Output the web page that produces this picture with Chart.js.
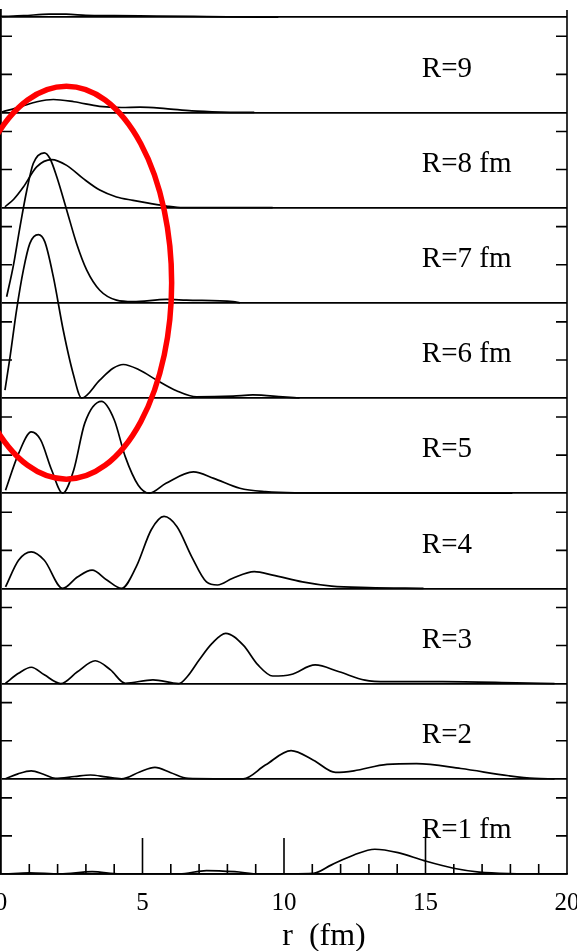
<!DOCTYPE html>
<html>
<head>
<meta charset="utf-8">
<script src="https://cdn.jsdelivr.net/npm/chart.js@4"></script>
<style>
  html, body { margin: 0; padding: 0; background: #fff; overflow: hidden; }
  #wrap { position: absolute; left: -30px; top: 0; width: 637px; height: 951px; }
</style>
</head>
<body>
<div id="wrap"><canvas id="profileChart"></canvas></div>
<script>
// r (fm) and profile value for each panel, bottom panel first
const r_R1 = [0.16, 1.0, 2.08, 3.22, 4.2, 6.3, 7.26, 8.26, 9.14, 11.04, 11.68, 12.47, 13.21, 14.03, 14.95, 15.99, 16.9, 18.46];
const v_R1 = [0, 0.03, 0, 0.06, 0, 0, 0.09, 0.06, 0, 0.02, 0.24, 0.5, 0.65, 0.56, 0.35, 0.15, 0.05, 0];

const r_R2 = [0.16, 0.6, 1.07, 1.5, 1.92, 2.6, 3.16, 3.7, 4.26, 4.9, 5.44, 6.0, 6.61, 7.52, 8.56, 9.34, 10.25, 11.04, 11.82, 12.47, 13.64, 14.68, 16.25, 17.94, 18.85, 19.56];
const v_R2 = [0, 0.13, 0.21, 0.12, 0.01, 0.06, 0.1, 0.05, 0, 0.18, 0.3, 0.16, 0.01, 0, 0, 0.36, 0.74, 0.49, 0.17, 0.21, 0.38, 0.4, 0.27, 0.08, 0.01, 0];

const r_R3 = [0.16, 0.62, 1.07, 1.53, 2.11, 2.7, 3.33, 3.87, 4.39, 5.37, 6.28, 6.6, 7.0, 7.45, 7.94, 8.56, 9.08, 9.6, 10.25, 11.1, 11.95, 12.86, 13.64, 15.6, 18.2, 19.56];
const v_R3 = [0.01, 0.27, 0.43, 0.23, 0, 0.31, 0.6, 0.36, 0.01, 0.1, 0, 0.2, 0.62, 1.05, 1.32, 1.01, 0.49, 0.2, 0.24, 0.49, 0.31, 0.09, 0.05, 0.05, 0.02, 0];

const r_R4 = [0.16, 0.62, 1.07, 1.53, 2.18, 2.7, 3.22, 3.74, 4.26, 4.78, 5.31, 5.76, 6.22, 6.74, 7.26, 7.65, 8.17, 8.95, 9.6, 10.65, 11.68, 12.99, 14.93];
const v_R4 = [0.04, 0.74, 0.96, 0.74, 0, 0.3, 0.48, 0.22, 0, 0.57, 1.54, 1.89, 1.62, 0.83, 0.17, 0.09, 0.26, 0.44, 0.35, 0.17, 0.06, 0.02, 0];

const r_R5 = [0.16, 0.62, 1.07, 1.4, 1.79, 2.18, 2.57, 2.96, 3.55, 4.0, 4.39, 4.85, 5.24, 5.83, 6.8, 7.52, 8.44, 9.34, 10.38, 18.07];
const v_R5 = [0.08, 1.04, 1.61, 1.4, 0.61, 0, 0.61, 1.84, 2.41, 1.93, 0.96, 0.21, 0, 0.26, 0.56, 0.39, 0.13, 0.04, 0.01, 0];

const r_R6 = [0.14, 0.32, 0.55, 0.79, 1.02, 1.32, 1.55, 1.85, 2.2, 2.55, 2.85, 3.49, 3.96, 4.32, 4.91, 5.5, 6.2, 6.91, 8.2, 8.9, 9.96, 10.55];
const v_R6 = [0.21, 1.08, 2.31, 3.36, 4.06, 4.29, 4.1, 3.18, 1.78, 0.64, 0, 0.47, 0.78, 0.88, 0.73, 0.47, 0.19, 0.03, 0.05, 0.08, 0.03, 0];

const r_R7 = [0.2, 0.43, 0.67, 0.91, 1.14, 1.53, 1.73, 1.97, 2.32, 2.67, 3.03, 3.49, 4.08, 4.66, 5.85, 6.55, 8.2, 8.44];
const v_R7 = [0.16, 0.95, 1.99, 2.95, 3.66, 3.94, 3.79, 3.31, 2.44, 1.56, 0.86, 0.33, 0.07, 0.03, 0.09, 0.07, 0.03, 0];

const r_R8 = [0.14, 0.45, 0.79, 1.26, 1.79, 2.32, 2.91, 3.49, 4.08, 4.67, 5.26, 5.85, 6.43, 9.6];
const v_R8 = [0.02, 0.22, 0.54, 1.07, 1.26, 1.11, 0.76, 0.46, 0.28, 0.19, 0.11, 0.04, 0, 0];

const r_R9 = [0.03, 0.74, 1.27, 1.85, 2.58, 3.48, 4.26, 4.91, 5.82, 6.74, 7.77, 8.95];
const v_R9 = [0.01, 0.16, 0.28, 0.34, 0.28, 0.16, 0.13, 0.14, 0.1, 0.04, 0.01, 0];

// panel cut off at the top of the figure
const r_R10 = [0, 0.8, 1.7, 2.3, 3.0, 4.0, 5.5, 6.8, 8.0, 9.8];
const v_R10 = [0.02, 0.04, 0.08, 0.08, 0.05, 0.04, 0.03, 0.02, 0.01, 0];

const panelNames = ['R=1 fm', 'R=2', 'R=3', 'R=4', 'R=5', 'R=6 fm', 'R=7 fm', 'R=8 fm', 'R=9', ''];
const xTicks = [0, 5, 10, 15, 20];
const panelHeight = 2.5;

// red ring drawn around the low-R peaks (data units)
const ring = { r: 2.31, y: 15.53, halfW: 3.72, halfH: 5.16 };

const serif = "'Liberation Serif', 'Times New Roman', serif";

const curves = [
  [r_R1, v_R1], [r_R2, v_R2], [r_R3, v_R3], [r_R4, v_R4], [r_R5, v_R5],
  [r_R6, v_R6], [r_R7, v_R7], [r_R8, v_R8], [r_R9, v_R9], [r_R10, v_R10]
];

const datasets = curves.map((c, i) => ({
  label: panelNames[i],
  data: c[0].map((r, j) => ({ x: r, y: c[1][j] + i * panelHeight })),
  borderColor: '#000',
  borderWidth: 1.7,
  pointRadius: 0,
  fill: false,
  cubicInterpolationMode: 'monotone'
}));

const framePlugin = {
  id: 'frame',
  afterDatasetsDraw(chart) {
    const { ctx, chartArea: a, scales: { x, y } } = chart;
    ctx.save();
    ctx.strokeStyle = '#000';
    ctx.lineWidth = 1.6;
    ctx.beginPath();
    // right border
    ctx.moveTo(a.right, a.top);
    ctx.lineTo(a.right, a.bottom);
    // inner ticks on both sides of each panel
    for (let p = 0; p < 9; p++) {
      [1, 2].forEach(k => {
        const py = y.getPixelForValue(p * panelHeight + k);
        ctx.moveTo(a.left, py); ctx.lineTo(a.left + 11, py);
        ctx.moveTo(a.right - 11, py); ctx.lineTo(a.right, py);
      });
    }
    // bottom ticks
    for (let v = 1; v < 20; v++) {
      const px = x.getPixelForValue(v);
      ctx.moveTo(px, a.bottom);
      ctx.lineTo(px, a.bottom - (v % 5 === 0 ? 36 : 10));
    }
    ctx.stroke();

    // panel labels
    ctx.fillStyle = '#000';
    ctx.font = '29px ' + serif;
    ctx.textBaseline = 'alphabetic';
    ctx.textAlign = 'left';
    panelNames.forEach((name, i) => {
      if (!name) return;
      ctx.fillText(name, x.getPixelForValue(14.87), y.getPixelForValue(i * panelHeight + 0.94));
    });

    // red ring
    const cx = x.getPixelForValue(ring.r);
    const cy = y.getPixelForValue(ring.y);
    const rx = x.getPixelForValue(ring.r + ring.halfW) - cx;
    const ry = cy - y.getPixelForValue(ring.y + ring.halfH);
    ctx.strokeStyle = '#ff0000';
    ctx.lineWidth = 5.5;
    ctx.beginPath();
    ctx.ellipse(cx, cy, rx, ry, 0, 0, Math.PI * 2);
    ctx.stroke();
    ctx.restore();
  }
};

new Chart(document.getElementById('profileChart'), {
  type: 'line',
  data: { datasets },
  plugins: [framePlugin],
  options: {
    responsive: true,
    maintainAspectRatio: false,
    animation: false,
    layout: { padding: { left: 31, right: 40, top: 10, bottom: 0 } },
    plugins: { legend: { display: false }, tooltip: { enabled: false } },
    scales: {
      x: {
        type: 'linear',
        min: 0,
        max: 20,
        afterFit(scale) { scale.height = 77; },
        afterBuildTicks(scale) { scale.ticks = xTicks.map(v => ({ value: v })); },
        grid: { display: false, drawTicks: false },
        border: { display: true, color: '#000', width: 1.8 },
        ticks: { color: '#000', padding: 14, maxRotation: 0, font: { family: serif, size: 25 } },
        title: {
          display: true,
          text: '\u00a0'.repeat(10) + 'r  (fm)',
          color: '#000',
          font: { family: serif, size: 32, lineHeight: 1 },
          padding: { top: 0, bottom: -2 }
        }
      },
      y: {
        type: 'linear',
        min: 0,
        max: 22.69,
        afterBuildTicks(scale) {
          const t = [];
          for (let p = 0; p < 10; p++) t.push({ value: p * panelHeight });
          scale.ticks = t;
        },
        grid: { color: '#000', lineWidth: 1.8, drawTicks: false },
        border: { display: true, color: '#000', width: 1.8 },
        ticks: { display: false }
      }
    }
  }
});
</script>
</body>
</html>
